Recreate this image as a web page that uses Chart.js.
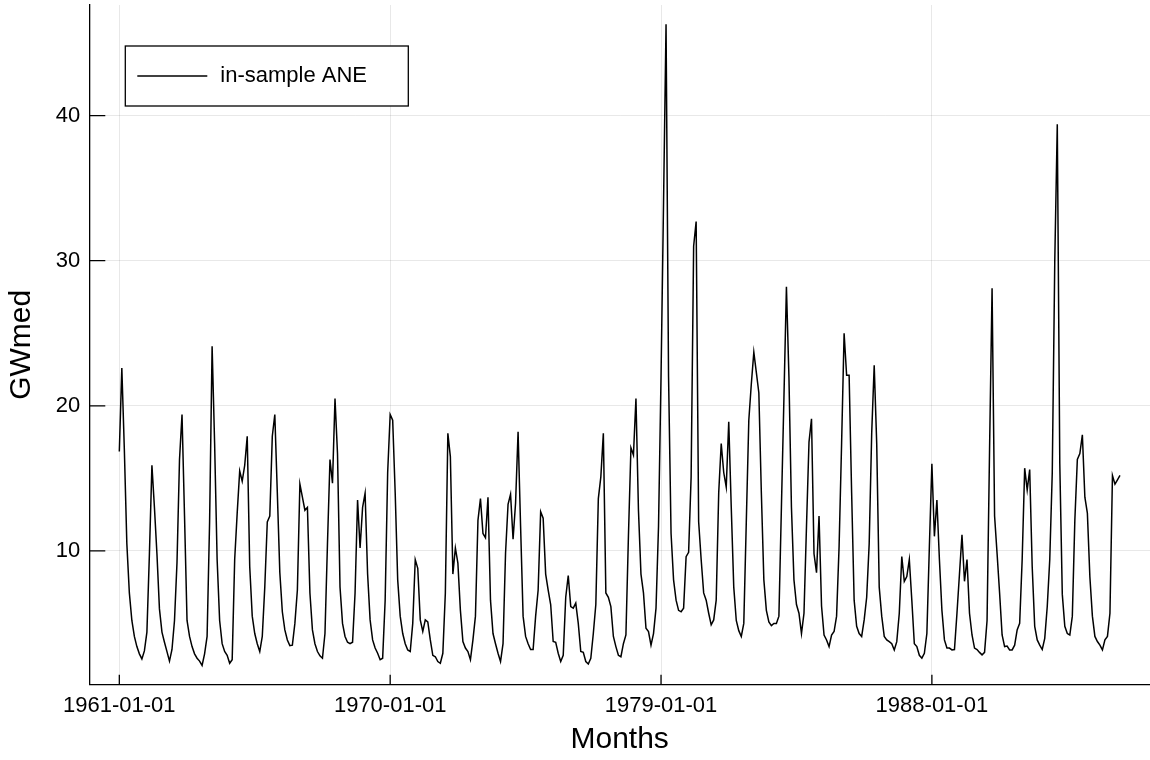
<!DOCTYPE html>
<html>
<head>
<meta charset="utf-8">
<script src="https://cdn.jsdelivr.net/npm/chart.js@4.4.1/dist/chart.umd.min.js"></script>
<style>
  html, body { margin: 0; padding: 0; background: #fff; }
  #wrap { width: 1150px; height: 760px; }
</style>
</head>
<body>
<div id="wrap"><canvas id="myChart"></canvas></div>
<script>
// monthly ANE (GWmed), Jan 1961 .. Apr 1994, one row per year
const ane = [
  16.85, 22.6, 17, 10.5, 7.1, 5.2, 4.1, 3.4, 2.9, 2.55, 3.1, 4.4,
  9.8, 15.9, 13.0, 9.8, 6.0, 4.4, 3.7, 3.05, 2.4, 3.2, 5.2, 9.2,
  16.3, 19.4, 12.4, 5.2, 4.1, 3.4, 2.9, 2.6, 2.4, 2.1, 2.9, 4.1,
  12, 24.1, 17.4, 9.4, 5.2, 3.6, 3.06, 2.8, 2.25, 2.5, 9.4, 12.6,
  15.5, 14.8, 15.9, 17.9, 8.9, 5.5, 4.3, 3.6, 3.06, 4.1, 7.5, 12.0,
  12.4, 17.9, 19.4, 14, 8.5, 5.8, 4.55, 3.86, 3.47, 3.5, 5.0, 7.3,
  14.6, 13.7, 12.8, 13.0, 7.1, 4.55, 3.6, 3.06, 2.76, 2.6, 4.3, 10.5,
  16.3, 14.66, 20.5, 16.7, 7.5, 5.0, 4.1, 3.7, 3.6, 3.7, 7.1, 13.5,
  10.2, 13.0, 13.97, 8.4, 5.24, 3.86, 3.3, 2.94, 2.5, 2.6, 6.6, 15.4,
  19.4, 19.0, 14.0, 8.0, 5.5, 4.3, 3.6, 3.17, 3.06, 5.0, 9.4, 8.8,
  5.24, 4.44, 5.24, 5.1, 3.86, 2.8, 2.7, 2.37, 2.25, 2.94, 7.1, 18.1,
  16.5, 8.4, 10.2, 9.15, 5.9, 3.75, 3.3, 3.06, 2.5, 3.86, 5.5, 12.1,
  13.6, 11.2, 10.9, 13.7, 6.6, 4.3, 3.6, 2.94, 2.37, 3.6, 9.84, 13.2,
  13.9, 10.8, 13.3, 18.2, 11.7, 5.5, 4.1, 3.6, 3.2, 3.2, 5.5, 7.3,
  12.7, 12.25, 8.4, 7.3, 6.3, 3.75, 3.7, 2.94, 2.37, 2.8, 6.8, 8.3,
  6.16, 6.05, 6.4, 5.0, 3.06, 3.0, 2.37, 2.2, 2.6, 4.3, 6.3, 13.6,
  15.1, 18.1, 7.1, 6.8, 6.16, 4.1, 3.4, 2.8, 2.7, 3.6, 4.2, 11.0,
  17.1, 16.6, 20.5, 12.8, 8.4, 7.1, 4.67, 4.44, 3.5, 4.3, 6.05, 11.7,
  22, 34, 46.3, 22, 11.2, 8.0, 6.6, 5.9, 5.8, 6.05, 9.6, 9.9,
  15.1, 31.0, 32.7, 12, 9.4, 7.1, 6.6, 5.7, 4.9, 5.24, 6.6, 14.0,
  17.4, 15.4, 14.4, 18.9, 13, 7.5, 5.2, 4.5, 4.1, 5.0, 12, 19,
  21.5, 23.7, 22.3, 20.9, 14.0, 8.0, 5.9, 5.1, 4.85, 5.0, 5.0, 5.5,
  13, 20.5, 28.2, 22, 13, 8.0, 6.3, 5.7, 4.3, 5.7, 11.7, 17.5,
  19.1, 9.8, 8.5, 12.4, 6.2, 4.2, 3.86, 3.4, 4.2, 4.44, 5.5, 10.3,
  17.4, 25.0, 22.1, 22.1, 14.0, 6.6, 4.8, 4.3, 4.1, 5.24, 6.8, 10.5,
  18.1, 22.8, 17.4, 7.5, 5.5, 4.1, 3.86, 3.74, 3.6, 3.17, 3.74, 5.7,
  9.6, 7.9, 8.23, 9.4, 6.6, 3.6, 3.4, 2.8, 2.6, 2.94, 4.3, 10.3,
  16.0, 11.0, 13.5, 9.4, 5.9, 3.86, 3.3, 3.3, 3.17, 3.2, 5.7, 8.4,
  11.1, 7.9, 9.4, 5.7, 4.2, 3.3, 3.2, 3.0, 2.83, 3.0, 5.2, 17,
  28.1, 12.4, 9.8, 7.1, 4.2, 3.4, 3.44, 3.17, 3.17, 3.5, 4.55, 5.0,
  9.4, 15.7, 14.2, 15.6, 8.9, 4.8, 3.86, 3.5, 3.2, 3.97, 6.16, 9.4,
  15.4, 30, 39.4, 16, 7.0, 4.8, 4.3, 4.2, 5.5, 12.1, 16.3, 16.7,
  18.0, 13.7, 12.6, 8.2, 5.5, 4.1, 3.75, 3.5, 3.17, 3.86, 4.1, 5.7,
  15.2, 14.6, 14.9, 15.2
];
const xTickMonths = [0, 108, 216, 324];
const xTickLabels = ['1961-01-01', '1970-01-01', '1979-01-01', '1988-01-01'];
const yTickValues = [10, 20, 30, 40];
const seriesName = 'in-sample ANE';

const family = "'Liberation Sans', Arial, Helvetica, sans-serif";

// 3% margin around the data, like the original plot
const xPad = (ane.length - 1) * 0.03;
const yLo = Math.min(...ane), yHi = Math.max(...ane);
const yPad = (yHi - yLo) * 0.03;

// ticks point inwards in the original
const innerTicks = {
  id: 'innerTicks',
  afterDatasetsDraw(chart) {
    const { ctx, chartArea, scales } = chart;
    ctx.save();
    ctx.strokeStyle = '#000';
    ctx.lineWidth = 1.3;
    ctx.beginPath();
    xTickMonths.forEach(m => {
      const px = scales.x.getPixelForValue(m);
      ctx.moveTo(px, chartArea.bottom);
      ctx.lineTo(px, chartArea.bottom - 10);
    });
    yTickValues.forEach(v => {
      const py = scales.y.getPixelForValue(v);
      ctx.moveTo(chartArea.left, py);
      ctx.lineTo(chartArea.left + 16, py);
    });
    ctx.stroke();
    ctx.restore();
  }
};

// boxed legend in the top left corner of the plot
const boxLegend = {
  id: 'boxLegend',
  afterDraw(chart) {
    const { ctx, chartArea } = chart;
    const x = chartArea.left + 36, y = chartArea.top + 41;
    ctx.save();
    ctx.fillStyle = '#fff';
    ctx.fillRect(x, y, 283, 60);
    ctx.strokeStyle = '#000';
    ctx.lineWidth = 1.3;
    ctx.strokeRect(x, y, 283, 60);
    ctx.beginPath();
    ctx.moveTo(x + 12, y + 30);
    ctx.lineTo(x + 82, y + 30);
    ctx.stroke();
    ctx.fillStyle = '#000';
    ctx.font = '22px ' + family;
    ctx.textBaseline = 'middle';
    ctx.fillText(seriesName, x + 95, y + 30);
    ctx.restore();
  }
};

new Chart(document.getElementById('myChart'), {
  type: 'line',
  data: {
    datasets: [{
      label: seriesName,
      data: ane.map((v, i) => ({ x: i, y: v })),
      borderColor: '#000',
      borderWidth: 1.5,
      pointRadius: 0,
      tension: 0,
      fill: false
    }]
  },
  options: {
    responsive: true,
    maintainAspectRatio: false,
    animation: false,
    layout: { padding: { top: 5, left: 0, right: 0, bottom: 0 } },
    plugins: {
      legend: { display: false },
      tooltip: { enabled: false }
    },
    scales: {
      x: {
        type: 'linear',
        min: -xPad,
        max: ane.length - 1 + xPad,
        afterBuildTicks: s => { s.ticks = xTickMonths.map(v => ({ value: v })); },
        afterFit: s => { s.height = 75.3; },
        ticks: {
          callback: v => xTickLabels[xTickMonths.indexOf(v)],
          color: '#000',
          font: { family: family, size: 22 },
          padding: 8,
          maxRotation: 0,
          autoSkip: false
        },
        grid: { color: 'rgba(0,0,0,0.09)', lineWidth: 1, drawTicks: false },
        border: { color: '#000', width: 1.3 },
        title: {
          display: true, text: 'Months', color: '#000',
          font: { family: family, size: 30 },
          padding: { top: 0, bottom: 2 }
        }
      },
      y: {
        min: yLo - yPad,
        max: yHi + yPad,
        afterBuildTicks: s => { s.ticks = yTickValues.map(v => ({ value: v })); },
        afterFit: s => { s.width = 89.3; s.paddingTop = 0; s.paddingBottom = 0; },
        ticks: {
          color: '#000',
          font: { family: family, size: 22 },
          padding: 9
        },
        grid: { color: 'rgba(0,0,0,0.09)', lineWidth: 1, drawTicks: false },
        border: { color: '#000', width: 1.3 },
        title: {
          display: true, text: 'GWmed', color: '#000',
          font: { family: family, size: 30 },
          padding: { top: 4, bottom: 0 }
        }
      }
    }
  },
  plugins: [innerTicks, boxLegend]
});
</script>
</body>
</html>
